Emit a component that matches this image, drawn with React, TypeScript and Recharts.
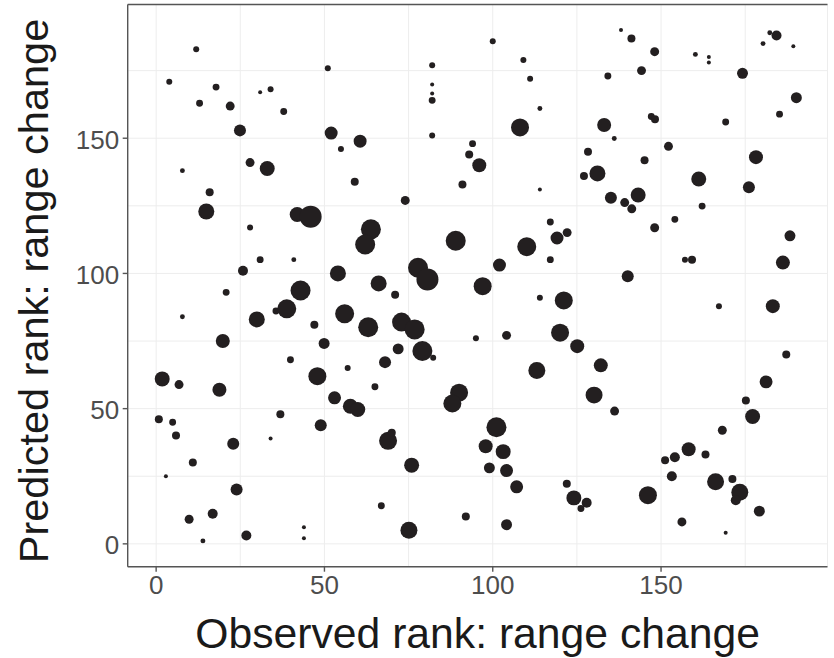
import React from "react";
import { ScatterChart, Scatter, XAxis, YAxis, ZAxis, CartesianGrid, ReferenceLine } from "recharts";

// Observed rank (x), predicted rank (y) and point magnitude (size) per species
const observedRank: number[] = [
  11.9, 3.9, 17.8, 30.9, 34.0, 12.9, 22.0, 37.9, 51.0, 24.9, 52.0, 60.6, 54.9, 7.8, 27.9, 33.0, 59.0, 15.9, 14.9, 41.9,
  45.9, 27.9, 63.8, 62.1, 30.9, 40.9, 25.8, 54.0, 42.9, 20.8, 100.0, 82.0, 82.0, 82.0, 82.0, 82.0, 109.1, 111.1, 114.0, 108.1,
  94.0, 93.0, 96.0, 91.0, 114.0, 74.0, 128.3, 127.1, 131.1, 89.0, 110.1, 117.1, 119.1, 122.1, 117.1, 102.0, 77.8, 80.6, 66.1, 97.0,
  138.1, 141.2, 148.1, 160.2, 164.2, 164.2, 182.3, 184.3, 180.3, 189.3, 134.2, 144.2, 174.2, 190.2, 185.2, 169.2, 133.1, 147.1, 148.2, 136.1,
  152.2, 178.2, 145.1, 161.2, 176.1, 135.1, 139.2, 141.3, 143.2, 162.2, 154.1, 148.1, 157.1, 159.2, 140.1, 188.3, 186.2, 7.8, 29.9, 19.8,
  35.6, 38.8, 56.0, 63.0, 47.0, 49.9, 39.9, 56.9, 47.9, 53.0, 57.7, 59.9, 1.8, 6.8, 18.8, 0.8, 4.9, 5.9, 36.9, 48.9,
  34.0, 22.9, 10.9, 2.9, 23.9, 9.8, 16.8, 13.9, 26.8, 43.9, 43.9, 71.0, 114.0, 121.1, 72.9, 76.8, 95.0, 104.1, 120.0, 125.1,
  71.9, 79.1, 82.3, 68.0, 65.0, 113.1, 90.0, 88.0, 101.1, 97.9, 103.1, 99.0, 104.1, 107.1, 68.9, 70.0, 75.9, 66.9, 75.1, 92.0,
  104.1, 122.0, 124.1, 127.9, 126.2, 167.2, 183.2, 187.2, 132.1, 130.1, 136.2, 181.2, 175.2, 177.2, 168.2, 158.2, 154.1, 151.2, 163.2, 153.2,
  166.2, 171.2, 173.4, 172.2, 179.2, 146.1, 156.2, 169.2,
];

const predictedRank: number[] = [
  182.9, 170.9, 168.9, 167.0, 168.1, 162.9, 161.9, 159.9, 175.9, 152.9, 151.9, 148.9, 146.0, 138.0, 141.0, 138.8, 133.9, 130.0, 122.9, 121.8,
  121.0, 117.0, 116.3, 110.7, 105.1, 105.1, 101.0, 100.0, 93.7, 93.0, 185.9, 177.0, 169.9, 166.5, 164.0, 151.0, 178.9, 172.0, 161.0, 154.0,
  148.0, 144.0, 140.0, 132.9, 131.0, 127.0, 145.0, 136.0, 137.0, 112.1, 109.9, 119.0, 113.1, 115.1, 105.1, 103.1, 102.1, 97.8, 96.3, 95.3,
  190.0, 186.9, 182.0, 181.0, 180.0, 178.0, 189.0, 188.0, 185.0, 184.0, 173.0, 175.0, 174.0, 165.0, 158.9, 156.0, 154.9, 158.0, 157.0, 149.9,
  147.0, 143.0, 141.9, 134.9, 131.9, 128.0, 126.2, 123.9, 129.0, 124.9, 120.0, 116.9, 105.1, 105.1, 99.0, 113.9, 104.0, 84.0, 83.0, 75.0,
  86.1, 86.9, 85.1, 80.1, 81.0, 74.1, 68.1, 65.0, 62.0, 54.0, 50.9, 49.7, 61.0, 58.9, 57.0, 46.1, 45.0, 40.1, 47.9, 43.9,
  39.0, 37.0, 30.1, 25.0, 20.1, 9.1, 11.1, 1.1, 3.1, 6.1, 2.1, 92.1, 91.0, 90.0, 82.0, 79.3, 76.0, 77.1, 78.1, 73.1,
  72.1, 71.3, 68.8, 67.2, 58.1, 64.1, 55.9, 51.9, 43.1, 36.1, 34.1, 28.1, 27.1, 21.1, 38.1, 41.1, 29.1, 14.1, 5.0, 10.1,
  7.1, 22.2, 17.0, 15.2, 13.1, 87.9, 87.9, 70.0, 66.0, 55.0, 49.1, 59.9, 53.0, 47.1, 42.0, 35.0, 32.0, 30.9, 33.0, 25.0,
  23.0, 24.0, 19.1, 16.1, 12.1, 18.0, 8.1, 4.1,
];

const magnitude: number[] = [
  9, 9, 12, 4, 9, 12, 20, 12, 9, 36, 42, 42, 9, 6, 20, 56, 16, 16, 64, 56,
  121, 9, 100, 100, 12, 6, 25, 64, 100, 12, 9, 9, 4, 4, 12, 9, 9, 9, 6, 81,
  12, 16, 49, 16, 4, 20, 16, 16, 64, 100, 90, 12, 42, 20, 12, 42, 100, 121, 64, 81,
  4, 16, 20, 6, 4, 4, 6, 25, 6, 4, 12, 20, 30, 30, 12, 12, 49, 12, 16, 6,
  20, 49, 16, 56, 36, 36, 20, 20, 56, 12, 12, 20, 9, 16, 36, 30, 49, 6, 64, 49,
  12, 90, 90, 100, 16, 30, 12, 9, 81, 42, 56, 56, 56, 20, 49, 16, 12, 16, 16, 36,
  4, 36, 16, 4, 36, 20, 25, 6, 25, 4, 4, 16, 9, 81, 90, 100, 9, 20, 81, 49,
  30, 100, 9, 36, 12, 72, 81, 81, 100, 49, 56, 30, 42, 42, 81, 16, 56, 12, 72, 16,
  30, 16, 56, 25, 12, 9, 49, 16, 49, 72, 20, 42, 16, 56, 20, 49, 25, 16, 16, 25,
  72, 16, 72, 25, 30, 81, 20, 4,
];

const xTicks = [0, 25, 50, 75, 100, 125, 150, 175];
const yTicks = [0, 25, 50, 75, 100, 125, 150, 175];
const majorStep = 50;

const points = observedRank.map((x, i) => ({ x, y: predictedRank[i], s: magnitude[i] }));

const FONT = "'Liberation Sans', Arial, Helvetica, sans-serif";
const AXIS_COLOR = "#555555";
const TICK_COLOR = "#4d4d4d";

const XTick = (props: any) => {
  const { x, y, payload } = props;
  if (payload.value % majorStep !== 0) return <g />;
  return (
    <g>
      <line x1={x} x2={x} y1={y} y2={y + 5} stroke={AXIS_COLOR} strokeWidth={1.4} />
      <text x={x} y={y + 27} textAnchor="middle" fontSize={26} fontFamily={FONT} fill={TICK_COLOR}>
        {payload.value}
      </text>
    </g>
  );
};

const YTick = (props: any) => {
  const { x, y, payload } = props;
  if (payload.value % majorStep !== 0) return <g />;
  return (
    <g>
      <line x1={x - 5} x2={x} y1={y} y2={y} stroke={AXIS_COLOR} strokeWidth={1.4} />
      <text x={x - 8.5} y={y + 10.5} textAnchor="end" fontSize={26} fontFamily={FONT} fill={TICK_COLOR}>
        {payload.value}
      </text>
    </g>
  );
};

export default function App() {
  return (
    <div style={{ position: "absolute", left: 0, top: 0, width: 834, height: 658, background: "#ffffff" }}>
      <ScatterChart width={834} height={658} margin={{ top: 4.5, right: 6.5, bottom: 31.3, left: 0 }}>
        <CartesianGrid stroke="#ededed" strokeWidth={1} />
        <XAxis
          type="number"
          dataKey="x"
          domain={[-8.45, 199.45]}
          ticks={xTicks}
          interval={0}
          tick={<XTick />}
          tickLine={false}
          tickSize={0}
          tickMargin={0}
          height={60}
          axisLine={{ stroke: AXIS_COLOR, strokeWidth: 1.4 }}
        />
        <YAxis
          type="number"
          dataKey="y"
          domain={[-8.45, 199.45]}
          ticks={yTicks}
          interval={0}
          tick={<YTick />}
          tickLine={false}
          tickSize={0}
          tickMargin={0}
          width={127.7}
          axisLine={{ stroke: AXIS_COLOR, strokeWidth: 1.4 }}
        />
        <ZAxis type="number" dataKey="s" domain={[0, 121]} range={[0, 121 * Math.PI]} />
        <ReferenceLine y={199.45} stroke={AXIS_COLOR} strokeWidth={1.4} />
        <Scatter data={points} fill="#231f20" isAnimationActive={false} />
      </ScatterChart>
      <svg
        width={834}
        height={658}
        style={{ position: "absolute", left: 0, top: 0, pointerEvents: "none" }}
      >
        <text x={477.6} y={648.3} textAnchor="middle" fontSize={42.7} fontFamily={FONT} fill="#1a1a1a">
          Observed rank: range change
        </text>
        <text
          x={48.3}
          y={291}
          textAnchor="middle"
          fontSize={41.5}
          fontFamily={FONT}
          fill="#1a1a1a"
          transform="rotate(-90, 48.3, 291)"
        >
          Predicted rank: range change
        </text>
      </svg>
    </div>
  );
}
